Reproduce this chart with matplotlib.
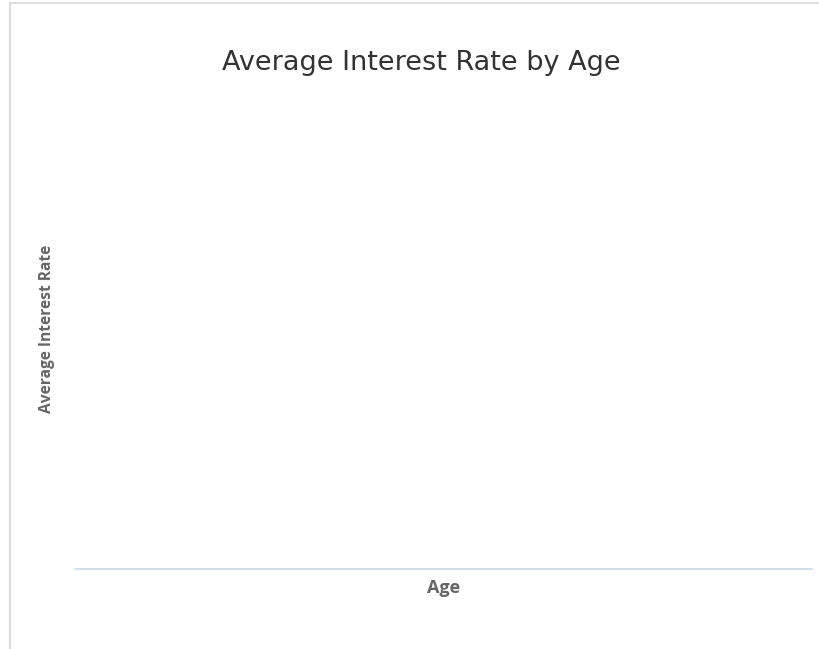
import matplotlib.pyplot as plt
from matplotlib.lines import Line2D

# The chart has no data points - the series is empty
ages = []
avg_rates = []

W, H = 820, 649
fig = plt.figure(figsize=(W / 100, H / 100), dpi=100)
ax = fig.add_axes([75 / W, 80 / H, (812 - 75) / W, (569 - 100) / H])

ax.plot(ages, avg_rates, color='#7cb5ec')

# Only the bottom axis line is drawn
for side in ['top', 'right', 'left']:
    ax.spines[side].set_visible(False)
ax.spines['bottom'].set_color('#ccd6eb')
ax.spines['bottom'].set_linewidth(1.2)
ax.set_xticks([])
ax.set_yticks([])
ax.set_xlim(0, 1)
ax.set_ylim(0, 1)

# Titles and axis labels
fig.text(421 / W, 1 - 63 / H, 'Average Interest Rate by Age', ha='center', va='center',
         fontsize=19.5, color='#333333', family='DejaVu Sans')
fig.text(47 / W, 1 - 329 / H, 'Average Interest Rate', ha='center', va='center',
         rotation=90, fontsize=11.2, fontweight='bold', color='#666666', family='Open Sans')
fig.text(443.5 / W, 1 - 588 / H, 'Age', ha='center', va='center',
         fontsize=13, fontweight='bold', color='#666666', family='Open Sans')

# Light frame on the top and left edges
fig.add_artist(Line2D([10 / W, 1], [1 - 2.5 / H, 1 - 2.5 / H], color='#dcdee3', lw=1.5))
fig.add_artist(Line2D([10 / W, 10 / W], [0, 1 - 2.5 / H], color='#dcdee3', lw=1.5))

plt.savefig('out.png', dpi=100)
